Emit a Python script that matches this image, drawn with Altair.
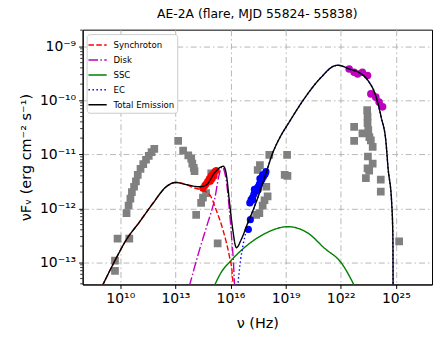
import altair as alt
import pandas as pd

# ---------------- data (log10 of nu [Hz] and log10 of nuFnu [erg cm^-2 s^-1]) ----------------
gray_lx = [9.71, 9.71, 9.85, 10.49, 10.34, 10.45, 10.55, 10.63, 10.75, 10.85, 10.95, 11.1, 11.25,
           11.4, 11.55, 11.7, 11.85,
           13.15, 13.42, 13.7, 13.86, 13.92, 14.0, 14.04, 14.13, 14.4, 14.5, 14.67, 14.95, 15.3,
           17.48, 17.6, 18.11, 17.95, 18.02, 17.85, 17.57, 17.75, 17.4, 19.08, 18.95, 19.1,
           22.73, 22.73, 23.18, 23.44, 23.46, 23.46, 23.5, 23.56, 23.64, 23.74, 23.48, 23.74, 23.46,
           23.55, 23.37, 24.18, 24.18, 25.18]
gray_ly = [-13.16, -12.97, -12.56, -12.56, -12.09, -11.95, -11.82, -11.7, -11.6, -11.5, -11.38, -11.27, -11.18,
           -11.1, -11.03, -10.96, -10.9,
           -10.75, -10.93, -11.02, -11.08, -11.17, -11.25, -11.31, -12.12, -11.9, -11.8, -11.72, -11.35, -12.65,
           -11.29, -11.2, -11.01, -11.6, -11.78, -11.85, -12.09, -11.95, -12.12, -11.01, -11.38, -11.4,
           -10.49, -10.75, -10.61, -10.18, -10.3, -10.42, -10.55, -10.68, -10.74, -10.86, -11.04, -11.17, -11.26,
           -11.3, -11.44, -11.47, -11.69, -12.61]

red_lx = [14.5, 14.6, 14.67, 14.76, 14.85, 14.95, 15.05, 15.15, 15.22, 14.9, 15.0, 15.1]
red_ly = [-11.63, -11.58, -11.55, -11.5, -11.45, -11.4, -11.36, -11.32, -11.3, -11.5, -11.45, -11.4]

blue_lx = [16.97, 17.08, 17.05, 17.12, 17.2, 17.27, 17.35, 17.42, 17.5, 17.57, 17.65, 17.72, 17.8,
           17.88, 17.93, 17.3, 17.6, 17.5, 17.75, 17.2]
blue_ly = [-12.39, -12.21, -11.9, -11.84, -11.8, -11.74, -11.69, -11.64, -11.6, -11.55, -11.5, -11.46,
           -11.41, -11.37, -11.32, -11.65, -11.45, -11.66, -11.38, -11.85]

mag_lx = [22.46, 22.73, 22.92, 23.18, 23.46, 23.64, 23.91, 24.09, 24.28]
mag_ly = [-9.42, -9.48, -9.51, -9.48, -9.54, -9.88, -9.94, -10.03, -10.12]

sync_lx = [9.0, 9.69, 10.33, 11.05, 11.77, 12.5, 13.0, 13.59, 14.0, 14.4, 14.85, 15.22, 15.58, 15.94, 16.09, 16.15]
sync_ly = [-13.45, -12.98, -12.58, -12.25, -11.91, -11.6, -11.52, -11.56, -11.62, -11.66, -11.74, -12.03,
           -12.39, -12.89, -13.19, -13.45]

disk_lx = [13.75, 14.31, 14.76, 15.13, 15.4, 15.54, 15.76, 15.94, 16.07, 16.16, 16.22]
disk_ly = [-13.45, -12.77, -12.27, -11.84, -11.35, -11.23, -11.47, -12.03, -12.58, -13.0, -13.45]

ssc_lx = [15.1, 15.52, 15.94, 16.85, 17.75, 19.13, 20.22, 21.12, 22.03, 22.77]
ssc_ly = [-13.45, -13.17, -13.0, -12.7, -12.49, -12.34, -12.46, -12.74, -13.01, -13.45]

ec_lx = [16.39, 16.55, 16.7, 16.85, 16.94, 17.21, 17.57, 17.93, 18.29, 18.7, 19.2, 19.95, 20.94, 21.66,
         21.85, 22.48, 23.12, 23.48, 23.93, 24.2, 24.47, 24.57, 24.78, 24.84, 24.85]
ec_ly = [-13.45, -12.95, -12.65, -12.42, -12.28, -12.05, -11.72, -11.35, -10.98, -10.68, -10.4, -10.0,
         -9.57, -9.36, -9.35, -9.42, -9.51, -9.63, -9.94, -10.31, -10.8, -11.23, -11.94, -12.55, -13.45]

tot_lx = [9.0, 9.69, 10.33, 11.05, 11.77, 12.5, 13.0, 13.59, 14.31, 14.67, 15.12, 15.49, 15.61, 15.76,
          15.94, 16.12, 16.32, 16.58, 16.94, 17.21, 17.57, 17.93, 18.29, 18.7, 19.2, 19.95, 20.94, 21.66,
          21.85, 22.48, 23.12, 23.48, 23.93, 24.2, 24.47, 24.57, 24.78, 24.84, 24.85]
tot_ly = [-13.45, -12.98, -12.58, -12.25, -11.91, -11.6, -11.52, -11.56, -11.6, -11.57, -11.35, -11.23,
          -11.22, -11.35, -11.87, -12.39, -12.73, -12.58, -12.27, -12.05, -11.72, -11.35, -10.98, -10.68,
          -10.4, -10.0, -9.57, -9.36, -9.35, -9.42, -9.51, -9.63, -9.94, -10.31, -10.8, -11.23, -11.94,
          -12.55, -13.45]

components = ["Synchroton", "Disk", "SSC", "EC", "Total Emission"]
comp_colors = ["#ff0000", "#bf00bf", "#008000", "#0000ff", "#000000"]
comp_dashes = [[5.5, 2.4], [9.6, 2.4, 1.5, 2.4], [1, 0], [1.5, 2.5], [1, 0]]

title_text = "AE-2A (flare, MJD 55824- 55838)"
x_tick_exp = [10, 13, 16, 19, 22, 25]
y_tick_exp = [-13, -12, -11, -10, -9]

XDOM = [10 ** 7.95, 10 ** 26.97]
YDOM = [10 ** -13.41, 10 ** -8.69]

SUP = str.maketrans("0123456789-", "⁰¹²³⁴⁵⁶⁷⁸⁹⁻")


def pts(lx, ly, **kw):
    d = pd.DataFrame({"nu": [10 ** v for v in lx], "f": [10 ** v for v in ly]})
    for k, v in kw.items():
        d[k] = v
    return d


def label_expr(exps):
    expr = "''"
    for e in reversed(exps):
        expr = f"round(log(datum.value)/LN10) == {e} ? '10{str(e).translate(SUP)}' : ({expr})"
    return expr


FONT = "DejaVu Sans"
xscale = alt.Scale(type="log", domain=XDOM, nice=False)
yscale = alt.Scale(type="log", domain=YDOM, nice=False)

xaxis = alt.Axis(values=[10.0 ** e for e in x_tick_exp], labelExpr=label_expr(x_tick_exp),
                 title="ν (Hz)", grid=True)
yaxis = alt.Axis(values=[10.0 ** e for e in y_tick_exp], labelExpr=label_expr(y_tick_exp),
                 title="νFᵥ (erg cm⁻² s⁻¹)", grid=True)

X = alt.X("nu:Q", scale=xscale, axis=xaxis)
Y = alt.Y("f:Q", scale=yscale, axis=yaxis)

gray = alt.Chart(pts(gray_lx, gray_ly)).mark_square(size=60, color="#808080", opacity=1, clip=True).encode(x=X, y=Y)
red = alt.Chart(pts(red_lx, red_ly)).mark_circle(size=52, color="#ff0000", opacity=1, clip=True).encode(x=X, y=Y)
blue = alt.Chart(pts(blue_lx, blue_ly)).mark_circle(size=52, color="#0000ff", opacity=1, clip=True).encode(x=X, y=Y)
mag = alt.Chart(pts(mag_lx, mag_ly)).mark_circle(size=58, color="#bf00bf", opacity=1, clip=True).encode(x=X, y=Y)

lines_df = pd.concat([
    pts(sync_lx, sync_ly, comp="Synchroton"),
    pts(disk_lx, disk_ly, comp="Disk"),
    pts(ssc_lx, ssc_ly, comp="SSC"),
    pts(ec_lx, ec_ly, comp="EC"),
    pts(tot_lx, tot_ly, comp="Total Emission"),
], ignore_index=True)
lines_df["k"] = lines_df["comp"].map({c: i for i, c in enumerate(components)})

legend = alt.Legend(title=None, orient="none", legendX=4, legendY=4.5, fillColor="white",
                    strokeColor="#cccccc", cornerRadius=3, padding=2.5, labelFontSize=8.6,
                    labelFont=FONT, symbolType="M-1.25,0H1.25", symbolSize=215, symbolStrokeWidth=1.5,
                    symbolFillColor="transparent", rowPadding=1, labelOffset=7.5)

lines = alt.Chart(lines_df).mark_line(strokeWidth=1.4, clip=True, interpolate="monotone").encode(
    x=X, y=Y,
    color=alt.Color("comp:N", scale=alt.Scale(domain=components, range=comp_colors), legend=legend,
                    sort=components),
    strokeDash=alt.StrokeDash("comp:N", scale=alt.Scale(domain=components, range=comp_dashes),
                              legend=legend, sort=components),
    detail="k:O",
    order=alt.Order("nu:Q"),
)

# minor ticks on the y axis (log subdivisions)
minor_vals = [m * 10.0 ** e for e in range(-14, -8) for m in range(2, 10)
              if YDOM[0] <= m * 10.0 ** e <= YDOM[1]]
minor = alt.Chart(pd.DataFrame({"f": minor_vals})).mark_rule(color="black", strokeWidth=0.8).encode(
    y=alt.Y("f:Q", scale=yscale, axis=yaxis), x=alt.value(0), x2=alt.value(-2.5))

chart = alt.layer(gray, red, blue, mag, lines, minor).properties(
    width=351, height=256,
    background="white",
    title=alt.TitleParams(title_text, font=FONT, fontSize=12.4, fontWeight="normal", offset=9,
                          anchor="middle", color="black"),
    autosize=alt.AutoSizeParams(type="none"),
    padding={"left": 75, "top": 21, "right": 4, "bottom": 45},
).configure_view(stroke="black", strokeWidth=1).configure_axis(
    labelFont=FONT, titleFont=FONT, labelFontSize=14, titleFontSize=14.5, titleFontWeight="normal",
    labelColor="black", titleColor="black", domainColor="black", tickColor="black", tickSize=4,
    gridColor="#b0b0b0", gridDash=[6, 3, 1.5, 3], gridWidth=0.9, labelPadding=3,
).configure_axisX(titlePadding=11).configure_axisY(titlePadding=6)

chart.save("out.html", embed_options={"renderer": "svg", "actions": False})
